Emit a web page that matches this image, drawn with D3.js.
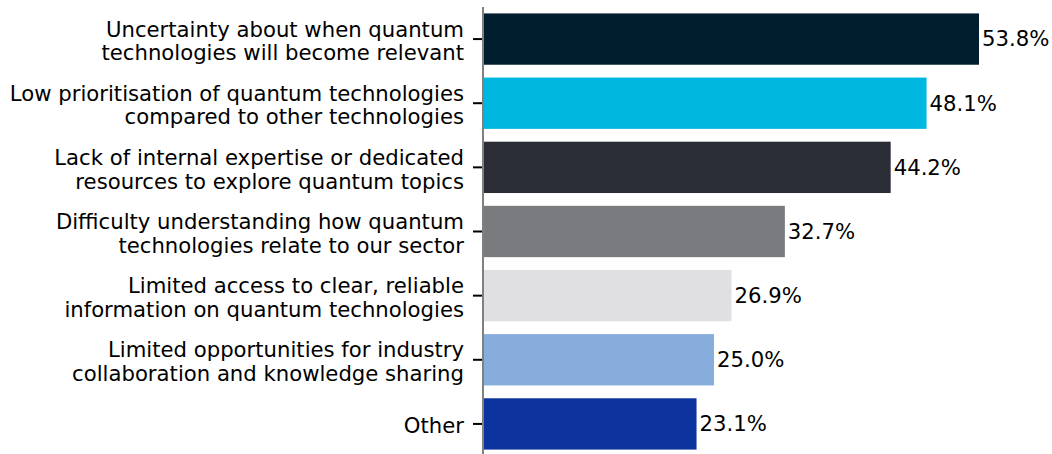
<!DOCTYPE html>
<html>
<head>
<meta charset="utf-8">
<script src="https://cdn.jsdelivr.net/npm/d3@7"></script>
<style>
  body { margin: 0; background: #fff; }
  svg text { font-family: "DejaVu Sans", sans-serif; fill: #000; }
</style>
</head>
<body>
<div id="chart"></div>
<script>
var categories = [
  ["Uncertainty about when quantum", "technologies will become relevant"],
  ["Low prioritisation of quantum technologies", "compared to other technologies"],
  ["Lack of internal expertise or dedicated", "resources to explore quantum topics"],
  ["Difficulty understanding how quantum", "technologies relate to our sector"],
  ["Limited access to clear, reliable", "information on quantum technologies"],
  ["Limited opportunities for industry", "collaboration and knowledge sharing"],
  ["Other"]
];
var values = [53.8, 48.1, 44.2, 32.7, 26.9, 25.0, 23.1];
var colors = ["#001e2d", "#00b8df", "#2a2d36", "#7a7b7f", "#e0e0e2", "#86addb", "#0c339e"];

var w = 1052, h = 454;
var left = 483;
var fs = 21.2;

var svg = d3.select("#chart")
  .append("svg")
    .attr("width", w)
    .attr("height", h);

var x = d3.scaleLinear()
  .domain([0, 53.8])
  .range([left + 1, 979]);

var y = d3.scaleBand()
  .domain(d3.range(values.length))
  .range([7, 456])
  .paddingInner(0.2)
  .paddingOuter(0.1);

// bars
svg.selectAll("rect.bar")
  .data(values)
  .enter().append("rect")
    .attr("class", "bar")
    .attr("x", x(0))
    .attr("y", function(d, i) { return y(i); })
    .attr("width", function(d) { return x(d) - x(0); })
    .attr("height", y.bandwidth())
    .attr("fill", function(d, i) { return colors[i]; });

// value labels
svg.selectAll("text.val")
  .data(values)
  .enter().append("text")
    .attr("class", "val")
    .attr("x", function(d) { return x(d) + 3; })
    .attr("y", function(d, i) { return y(i) + y.bandwidth() / 2; })
    .attr("dy", "0.35em")
    .style("font-size", fs + "px")
    .text(function(d) { return d.toFixed(1) + "%"; });

// y axis, ticks only
var yAxis = d3.axisLeft(y)
  .tickSize(9)
  .tickFormat("");

var ax = svg.append("g")
  .attr("transform", "translate(" + (left - 1) + ",0)")
  .call(yAxis);

ax.select(".domain").remove();
ax.selectAll(".tick line")
  .attr("stroke", "#000")
  .attr("stroke-width", 2);

svg.append("line")
  .attr("x1", left).attr("x2", left)
  .attr("y1", 7).attr("y2", h)
  .attr("stroke", "#808080")
  .attr("stroke-width", 2);

// category labels
var lh = 23.5;
svg.selectAll("text.cat")
  .data(categories)
  .enter().append("text")
    .attr("class", "cat")
    .attr("text-anchor", "end")
    .style("font-size", fs + "px")
    .each(function(d, i) {
      var t = d3.select(this);
      var cy = y(i) + y.bandwidth() / 2 + 2;
      var y0 = cy - (d.length - 1) * lh / 2;
      d.forEach(function(line, j) {
        t.append("tspan")
          .attr("x", left - 19)
          .attr("y", y0 + j * lh)
          .attr("dy", "0.35em")
          .text(line);
      });
    });
</script>
</body>
</html>
